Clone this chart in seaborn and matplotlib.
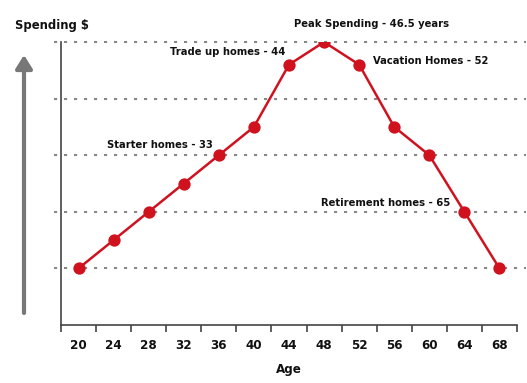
import matplotlib
matplotlib.use("Agg")
import matplotlib.pyplot as plt
import seaborn as sns
import pandas as pd

ages = ["20", "24", "28", "32", "36", "40", "44", "48", "52", "56", "60", "64", "68"]
spending = [1.0, 1.5, 2.0, 2.5, 3.0, 3.5, 4.6, 5.0, 4.6, 3.5, 3.0, 2.0, 1.0]
notes = ["Trade up homes - 44", "Peak Spending - 46.5 years", "Vacation Homes - 52",
         "Starter homes - 33", "Retirement homes - 65"]

sns.set_theme(style="white")
FONT = ["DejaVu Sans"]
plt.rcParams["font.family"] = FONT
plt.rcParams["font.stretch"] = "condensed"

RED = "#d0121f"
fig = plt.figure(figsize=(5.27, 3.83), dpi=100)
W, H = 527, 383
ax = fig.add_axes([61 / W, 1 - 325 / H, (517 - 61) / W, (325 - 42) / H])

df = pd.DataFrame({"Age": ages, "Spending": spending})
sns.pointplot(data=df, x="Age", y="Spending", color=RED, ax=ax,
              markers="o", markersize=7.5, linewidth=1.8, errorbar=None)

ax.set_xlim(-0.5, len(ages) - 0.5)
ax.set_ylim(0, 5)

for lvl in [1, 2, 3, 4, 5]:
    ax.axhline(lvl, xmin=-0.015, xmax=1.02, color="#888888", lw=1.5,
               ls=(0, (1.5, 3.3)), clip_on=False, zorder=0)

for s in ["top", "right"]:
    ax.spines[s].set_visible(False)
for s in ["left", "bottom"]:
    ax.spines[s].set_color("#444444")
    ax.spines[s].set_linewidth(1.2)

ax.set_yticks([])
ax.set_xticks(range(len(ages)))
ax.set_xticklabels(ages, fontweight="bold", fontsize=9.5, stretch="condensed")
ax.tick_params(axis="x", which="major", length=0, pad=10, colors="#111111")
ax.set_xticks([i - 0.5 for i in range(len(ages) + 1)], minor=True)
ax.tick_params(axis="x", which="minor", length=5, width=1.2, color="#444444",
               direction="out", bottom=True)
ax.set_xlabel("Age", fontweight="bold", fontsize=9.5, labelpad=8,
              stretch="condensed", color="#111111")
ax.set_ylabel("")

def dx(px):
    return (px - 61) / ((517 - 61) / len(ages)) - 0.5

def dy(py):
    return (325 - py) / ((325 - 42) / 5)

kw = dict(fontsize=8, fontweight="bold", color="#111111", va="center",
          stretch="condensed")
ax.text(dx(285), dy(52), notes[0], ha="right", **kw)
ax.text(dx(372), dy(24), notes[1], ha="center", **kw)
ax.text(dx(373), dy(61), notes[2], ha="left", **kw)
ax.text(dx(213), dy(145), notes[3], ha="right", **kw)
ax.text(dx(450), dy(203), notes[4], ha="right", **kw)

fig.text(15 / W, 1 - 25 / H, "Spending $", fontsize=9.3, fontweight="bold",
         ha="left", va="center", color="#111111", stretch="condensed")

fig.patches.append(matplotlib.patches.FancyArrowPatch(
    (24 / W, 1 - 313 / H), (24 / W, 1 - 55 / H), transform=fig.transFigure,
    arrowstyle="-|>,head_length=4,head_width=2.5", mutation_scale=2,
    color="#777777", lw=3, shrinkA=0, shrinkB=0))

fig.savefig("out.png", dpi=100)
